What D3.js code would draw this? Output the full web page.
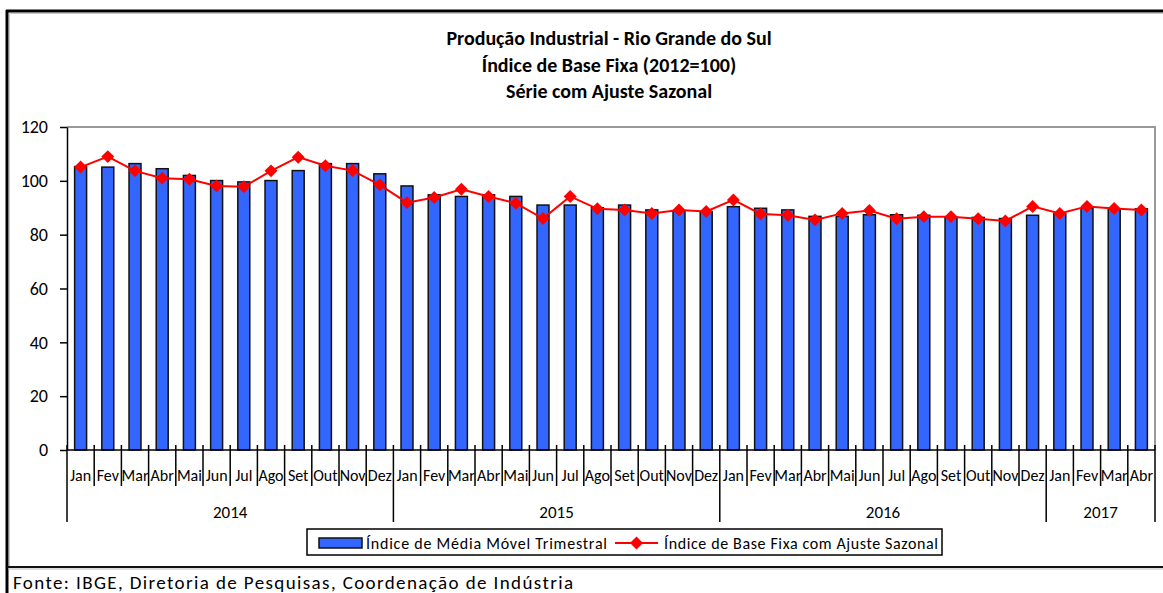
<!DOCTYPE html>
<meta charset="utf-8" />
<style>
  body { margin: 0; background: #fff; }
  svg { display: block; font-family: Carlito, Lato, sans-serif; }
  .title { font-weight: bold; font-size: 20px; }
  .yaxis text { font-size: 18px; }
  .month { font-size: 16px; }
  .year { font-size: 17px; }
  .legend text { font-size: 16px; }
</style>
<svg width="1163" height="593"></svg>
<script src="https://d3js.org/d3.v7.min.js"></script>
<script>
  // data
  const months = ['Jan', 'Fev', 'Mar', 'Abr', 'Mai', 'Jun', 'Jul', 'Ago', 'Set', 'Out', 'Nov', 'Dez'];
  const years = ['2014', '2015', '2016', '2017'];
  const monthsPerYear = [12, 12, 12, 4];
  const yTicks = [0, 20, 40, 60, 80, 100, 120];

  // Índice de Média Móvel Trimestral (bars)
  const mediaMovel = [
    105.3, 105.1, 106.4, 104.5, 102.0, 100.1, 99.6, 100.1, 103.8, 106.4, 106.4, 102.6,
    98.1, 94.8, 94.2, 94.8, 94.2, 91.0, 91.0, 90.0, 91.0, 89.2, 88.8, 88.6,
    90.4, 89.8, 89.2, 86.8, 86.8, 87.4, 87.4, 87.2, 86.5, 86.4, 86.0, 87.2,
    87.8, 89.8, 89.5, 89.6
  ];
  // Índice de Base Fixa com Ajuste Sazonal (line)
  const ajusteSazonal = [
    105.1, 109.0, 103.7, 101.0, 100.6, 98.1, 97.8, 103.7, 108.8, 105.6, 103.8, 98.5,
    91.9, 93.8, 96.9, 94.2, 91.7, 86.0, 94.2, 89.6, 89.2, 87.9, 89.2, 88.6,
    92.9, 87.7, 87.2, 85.5, 87.9, 89.0, 85.9, 86.7, 86.7, 85.9, 85.1, 90.5,
    87.9, 90.5, 89.7, 89.2
  ];

  const titleLines = [
    'Produção Industrial - Rio Grande do Sul',
    'Índice de Base Fixa (2012=100)',
    'Série com Ajuste Sazonal'
  ];

  const svg = d3.select('svg');
  const width = +svg.attr('width');
  const height = +svg.attr('height');

  // build category list
  const cats = [];
  years.forEach(function (yr, yi) {
    for (let m = 0; m < monthsPerYear[yi]; m++) {
      cats.push({ key: yr + '-' + m, month: months[m], year: yr });
    }
  });
  cats.forEach(function (d, i) {
    d.bar = mediaMovel[i];
    d.line = ajusteSazonal[i];
  });

  const plotL = 67, plotR = 1155, plotT = 127, plotB = 450;

  const xCat = d3.scaleBand().domain(cats.map(d => d.key)).range([plotL, plotR]);
  const x = d3.scaleBand().domain(cats.map(d => d.key)).range([plotL, plotR])
    .paddingInner(0.56).paddingOuter(0.28);
  const y = d3.scaleLinear().domain([0, 120]).range([plotB, plotT]);

  // outer frame
  svg.append('line').attr('x1', 6).attr('x2', width).attr('y1', 11).attr('y2', 11)
    .attr('stroke', '#000').attr('stroke-width', 3);
  svg.append('line').attr('x1', 7).attr('x2', 7).attr('y1', 10).attr('y2', height)
    .attr('stroke', '#000').attr('stroke-width', 3);
  svg.append('line').attr('x1', 9.5).attr('x2', width).attr('y1', 13.5).attr('y2', 13.5)
    .attr('stroke', '#c8c8c8').attr('stroke-width', 1);
  svg.append('line').attr('x1', 9.5).attr('x2', 9.5).attr('y1', 13.5).attr('y2', 566)
    .attr('stroke', '#c8c8c8').attr('stroke-width', 1);
  svg.append('line').attr('x1', 7).attr('x2', width).attr('y1', 567).attr('y2', 567)
    .attr('stroke', '#111').attr('stroke-width', 2);
  svg.append('line').attr('x1', 8).attr('x2', width).attr('y1', 569).attr('y2', 569)
    .attr('stroke', '#bbb').attr('stroke-width', 1);

  // title
  svg.append('g').selectAll('text').data(titleLines).join('text')
    .attr('class', 'title')
    .attr('x', 609)
    .attr('y', (d, i) => 45 + i * 26.5)
    .attr('text-anchor', 'middle')
    .text(d => d);

  // plot area border (top & right, gray)
  svg.append('path')
    .attr('d', `M${plotL},${plotT}H${plotR}V${plotB}`)
    .attr('fill', 'none').attr('stroke', '#999').attr('stroke-width', 2);

  // bars
  svg.append('g').selectAll('rect').data(cats).join('rect')
    .attr('x', d => x(d.key))
    .attr('width', x.bandwidth())
    .attr('y', d => y(d.bar))
    .attr('height', d => y(0) - y(d.bar))
    .attr('fill', '#3366ff')
    .attr('stroke', '#111')
    .attr('stroke-width', 1.5);

  // y axis
  const yAxis = svg.append('g').attr('class', 'yaxis')
    .attr('transform', `translate(${plotL},0)`)
    .call(d3.axisLeft(y).tickValues(yTicks).tickSize(7).tickPadding(12).tickSizeOuter(0));
  yAxis.select('.domain').attr('stroke', '#000').attr('stroke-width', 1.5);
  yAxis.selectAll('.tick line').attr('stroke', '#000').attr('stroke-width', 1.5);
  yAxis.selectAll('.tick text').attr('fill', '#000').style('font-family', 'Carlito, Lato, sans-serif');

  // x axis line
  svg.append('line').attr('x1', plotL).attr('x2', plotR).attr('y1', plotB).attr('y2', plotB)
    .attr('stroke', '#000').attr('stroke-width', 1.5);

  // category boundaries
  const yearStarts = new Set();
  let acc = 0;
  monthsPerYear.forEach(n => { yearStarts.add(acc); acc += n; });
  yearStarts.add(cats.length);
  const bounds = d3.range(cats.length + 1).map(i => ({
    i: i,
    x: i < cats.length ? xCat(cats[i].key) : plotR,
    major: yearStarts.has(i)
  }));
  svg.append('g').selectAll('line').data(bounds).join('line')
    .attr('x1', d => d.x).attr('x2', d => d.x)
    .attr('y1', plotB - 5)
    .attr('y2', d => d.major ? 522 : 486)
    .attr('stroke', '#000').attr('stroke-width', 1.5);

  // month labels
  svg.append('g').selectAll('text').data(cats).join('text')
    .attr('class', 'month')
    .attr('x', d => xCat(d.key) + xCat.bandwidth() / 2)
    .attr('y', 481)
    .attr('text-anchor', 'middle')
    .text(d => d.month);

  // year labels
  let start = 0;
  const yearPos = years.map((yr, yi) => {
    const a = xCat(cats[start].key);
    const endIdx = start + monthsPerYear[yi];
    const b = endIdx < cats.length ? xCat(cats[endIdx].key) : plotR;
    start = endIdx;
    return { yr: yr, cx: (a + b) / 2 };
  });
  svg.append('g').selectAll('text').data(yearPos).join('text')
    .attr('class', 'year')
    .attr('x', d => d.cx)
    .attr('y', 518)
    .attr('text-anchor', 'middle')
    .text(d => d.yr);

  // line series
  const lineGen = d3.line()
    .x(d => xCat(d.key) + xCat.bandwidth() / 2)
    .y(d => y(d.line));
  svg.append('path').datum(cats)
    .attr('d', lineGen)
    .attr('fill', 'none')
    .attr('stroke', '#ff0000')
    .attr('stroke-width', 2);

  const diamond = d3.symbol().type(d3.symbolSquare).size(84);
  svg.append('g').selectAll('path').data(cats).join('path')
    .attr('d', diamond)
    .attr('transform', d => `translate(${xCat(d.key) + xCat.bandwidth() / 2},${y(d.line)}) rotate(45)`)
    .attr('fill', '#ff0000');

  // legend
  const lg = svg.append('g').attr('class', 'legend');
  lg.append('rect').attr('x', 307).attr('y', 529).attr('width', 635).attr('height', 26)
    .attr('fill', '#fff').attr('stroke', '#000').attr('stroke-width', 1.5);
  lg.append('rect').attr('x', 319).attr('y', 538).attr('width', 43).attr('height', 10)
    .attr('fill', '#3366ff').attr('stroke', '#111').attr('stroke-width', 1.5);
  lg.append('text').attr('x', 366).attr('y', 548.5)
    .attr('textLength', 241).attr('lengthAdjust', 'spacing')
    .text('Índice de Média Móvel Trimestral');
  lg.append('line').attr('x1', 615).attr('x2', 658).attr('y1', 543).attr('y2', 543)
    .attr('stroke', '#ff0000').attr('stroke-width', 2);
  lg.append('path').attr('d', diamond)
    .attr('transform', 'translate(636.5,543) rotate(45)')
    .attr('fill', '#ff0000');
  lg.append('text').attr('x', 664).attr('y', 548.5)
    .attr('textLength', 274).attr('lengthAdjust', 'spacing')
    .text('Índice de Base Fixa com Ajuste Sazonal');

  // source
  svg.append('text')
    .attr('x', 13).attr('y', 589)
    .attr('font-size', 19)
    .attr('textLength', 560).attr('lengthAdjust', 'spacing')
    .text('Fonte: IBGE, Diretoria de Pesquisas, Coordenação de Indústria');
</script>
